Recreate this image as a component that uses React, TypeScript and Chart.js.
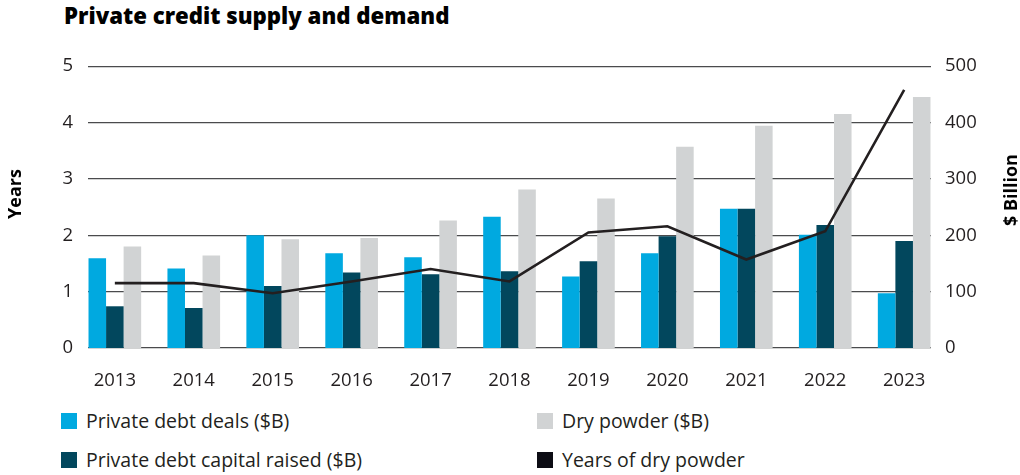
import React, { useEffect, useRef } from "react";
import { Chart, registerables } from "chart.js";

Chart.register(...registerables);

const TITLE = "Private credit supply and demand";
const LEFT_AXIS_TITLE = "Years";
const RIGHT_AXIS_TITLE = "$ Billion";

const years = ["2013", "2014", "2015", "2016", "2017", "2018", "2019", "2020", "2021", "2022", "2023"];
const dealsB = [159, 141, 200, 168, 161, 233, 127, 168, 247, 201, 97];
const capitalRaisedB = [74, 71, 110, 134, 131, 136, 154, 198, 247, 218, 190];
const dryPowderB = [180, 164, 193, 195, 226, 281, 265, 357, 394, 415, 445];
const yearsOfDryPowder = [1.15, 1.15, 0.97, 1.18, 1.4, 1.18, 2.05, 2.16, 1.57, 2.07, 4.58];

const leftTicks = [0, 1, 2, 3, 4, 5];
const rightTicks = [0, 100, 200, 300, 400, 500];

const LABEL_DEALS = "Private debt deals ($B)";
const LABEL_CAPITAL = "Private debt capital raised ($B)";
const LABEL_DRY = "Dry powder ($B)";
const LABEL_YEARS = "Years of dry powder";

const C_DEALS = "#00a9e0";
const C_CAPITAL = "#02475d";
const C_DRY = "#d1d3d4";
const C_LINE = "#231f20";
const C_LINE_LEGEND = "#0c0c14";
const C_TEXT = "#231f20";
const C_GRID = "#4a4b4d";

const FONT = "'Open Sans', 'Noto Sans', sans-serif";

const legendItems = [
  { label: LABEL_DEALS, color: C_DEALS },
  { label: LABEL_DRY, color: C_DRY },
  { label: LABEL_CAPITAL, color: C_CAPITAL },
  { label: LABEL_YEARS, color: C_LINE_LEGEND },
];

const axisTitlePlugin = {
  id: "axisTitlesRotated",
  afterDraw(chart: any) {
    const { ctx, chartArea } = chart;
    const cy = (chartArea.top + chartArea.bottom) / 2 - 14;
    ctx.save();
    ctx.fillStyle = "#000000";
    ctx.font = `bold 18px ${FONT}`;
    ctx.textAlign = "center";
    ctx.textBaseline = "middle";
    const draw = (text: string, x: number, y: number) => {
      ctx.save();
      ctx.translate(x, y);
      ctx.rotate(-Math.PI / 2);
      ctx.fillText(text, 0, 0);
      ctx.restore();
    };
    draw(LEFT_AXIS_TITLE, 16, cy + 1);
    draw(RIGHT_AXIS_TITLE, chart.width - 8.5, cy - 3);
    ctx.restore();
  },
};

export default function App() {
  const ref = useRef<HTMLCanvasElement | null>(null);

  useEffect(() => {
    document.body.style.margin = "0";
    const canvas = ref.current;
    if (!canvas) return;
    const toXY = (arr: number[]) => arr.map((v, i) => ({ x: i, y: v }));
    const chart = new Chart(canvas, {
      type: "bar",
      data: {
        datasets: [
          {
            type: "line",
            label: LABEL_YEARS,
            data: toXY(yearsOfDryPowder),
            yAxisID: "yYears",
            borderColor: C_LINE,
            backgroundColor: C_LINE,
            borderWidth: 2.6,
            pointRadius: 0,
            tension: 0,
            order: -1,
          } as any,
          {
            label: LABEL_DEALS,
            data: toXY(dealsB),
            yAxisID: "yBillion",
            backgroundColor: C_DEALS,
            order: 1,
          },
          {
            label: LABEL_CAPITAL,
            data: toXY(capitalRaisedB),
            yAxisID: "yBillion",
            backgroundColor: C_CAPITAL,
            order: 1,
          },
          {
            label: LABEL_DRY,
            data: toXY(dryPowderB),
            yAxisID: "yBillion",
            backgroundColor: C_DRY,
            order: 1,
          },
        ],
      },
      options: {
        animation: false,
        responsive: false,
        maintainAspectRatio: false,
        layout: { padding: { top: 25, bottom: 0, left: 0, right: 0 } },
        datasets: {
          bar: { categoryPercentage: 0.667, barPercentage: 1.0, borderWidth: 0 },
        } as any,
        plugins: {
          legend: { display: false },
          title: { display: false },
          tooltip: { enabled: false },
        },
        scales: {
          x: {
            type: "linear",
            min: -0.34,
            max: years.length - 1 + 0.34,
            offset: false,
            grid: { display: false, drawTicks: false },
            border: { display: false },
            afterBuildTicks: (scale: any) => {
              scale.ticks = years.map((_, i) => ({ value: i }));
            },
            afterFit: (scale: any) => {
              scale.height = 52;
            },
            ticks: {
              autoSkip: false,
              maxRotation: 0,
              padding: 22,
              color: C_TEXT,
              font: { family: FONT, size: 18.5 },
              callback: (v: any) => years[v] ?? "",
            },
          },
          yYears: {
            type: "linear",
            position: "left",
            min: 0,
            max: 5,
            afterBuildTicks: (scale: any) => {
              scale.ticks = leftTicks.map((v) => ({ value: v }));
            },
            afterFit: (scale: any) => {
              scale.width = 88;
            },
            grid: { color: C_GRID, lineWidth: 1.2, drawTicks: false },
            border: { display: false },
            ticks: {
              padding: 15,
              color: C_TEXT,
              font: { family: FONT, size: 18.5 },
            },
          },
          yBillion: {
            type: "linear",
            position: "right",
            min: 0,
            max: 500,
            afterBuildTicks: (scale: any) => {
              scale.ticks = rightTicks.map((v) => ({ value: v }));
            },
            afterFit: (scale: any) => {
              scale.width = 89;
            },
            grid: { display: false, drawTicks: false },
            border: { display: false },
            ticks: {
              padding: 14,
              color: C_TEXT,
              font: { family: FONT, size: 18.5 },
            },
          },
        },
      },
      plugins: [axisTitlePlugin],
    });
    return () => chart.destroy();
  }, []);

  return (
    <div style={{ position: "relative", width: 1020, height: 475, overflow: "hidden", background: "#fff" }}>
      <div
        style={{
          position: "absolute",
          left: 64,
          top: 3,
          fontFamily: FONT,
          fontWeight: 800,
          fontSize: 22.2,
          lineHeight: "26px",
          color: "#000",
          whiteSpace: "nowrap",
        }}
      >
        {TITLE}
      </div>
      <canvas ref={ref} width={1020} height={360} style={{ position: "absolute", left: 0, top: 40, width: 1020, height: 360 }} />
      <div
        style={{
          position: "absolute",
          left: 61,
          top: 401,
          display: "grid",
          gridTemplateColumns: "476px auto",
          gridAutoRows: "39px",
          fontFamily: FONT,
          fontSize: 19.5,
          color: C_TEXT,
        }}
      >
        {legendItems.map((it) => (
          <div key={it.label} style={{ display: "flex", alignItems: "center", whiteSpace: "nowrap" }}>
            <span style={{ display: "inline-block", width: 16, height: 16, background: it.color, marginRight: 9 }} />
            <span>{it.label}</span>
          </div>
        ))}
      </div>
    </div>
  );
}
